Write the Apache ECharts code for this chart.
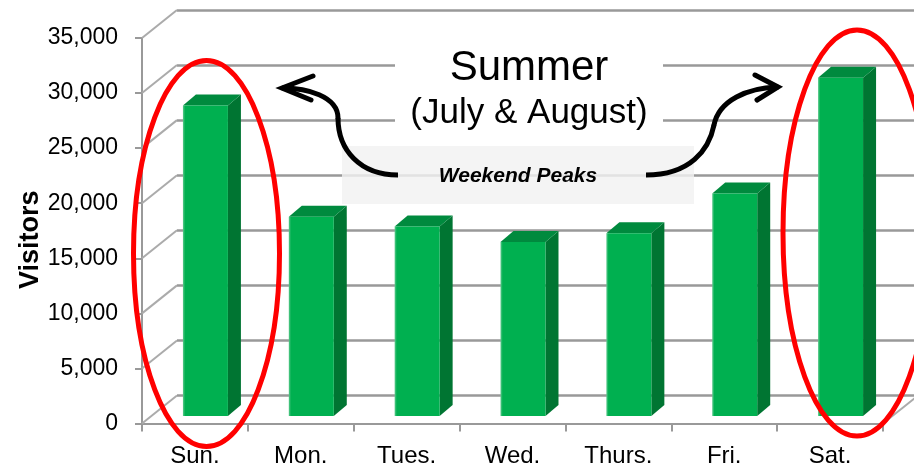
<!DOCTYPE html>
<html>
<head>
<meta charset="utf-8">
<title>Summer Visitors by Day of Week</title>
<script src="https://cdn.jsdelivr.net/npm/echarts@6/dist/echarts.min.js"></script>
<style>
  html, body { margin: 0; padding: 0; background: #ffffff; }
  #chart { width: 914px; height: 471px; }
</style>
</head>
<body>
<div id="chart"></div>
<script>
// Daily visitor totals, summer (July & August)
const categories = ['Sun.', 'Mon.', 'Tues.', 'Wed.', 'Thurs.', 'Fri.', 'Sat.'];
const visitors = [28200, 18100, 17200, 15800, 16600, 20200, 30700];
const yTickValues = [0, 5000, 10000, 15000, 20000, 25000, 30000, 35000];

const FONT = "'Liberation Sans', Arial, Helvetica, sans-serif";

// Pseudo-3D depth of the chart box (front plane -> back wall)
const WALL_DX = 35, WALL_DY = 28;
// Column placement in depth, and the column's own thickness
const BAR_DX = 10.5, BAR_DY = 7.5;
const COL_DX = 13, COL_DY = 11;

const GREEN_FRONT = '#00b050';
const GREEN_TOP = '#008a3e';
const GREEN_SIDE = '#007532';
const GRID_GRAY = '#999999';

const yStep = yTickValues[1] - yTickValues[0];
const yMin = yTickValues[0];
const yMax = yTickValues[yTickValues.length - 1];

function renderColumn(params, api) {
  const idx = api.value(0);
  const val = api.value(1);
  const base = api.coord([idx, 0]);
  const top = api.coord([idx, val]);
  const band = api.size([1, 0])[0];
  const w = band * 0.425;
  const x0 = base[0] + BAR_DX - w / 2;
  const yb = base[1] - BAR_DY;
  const yt = top[1] - BAR_DY;
  return {
    type: 'group',
    children: [
      {
        type: 'polygon',
        shape: { points: [[x0 + w, yt], [x0 + w + COL_DX, yt - COL_DY], [x0 + w + COL_DX, yb - COL_DY], [x0 + w, yb]] },
        style: { fill: GREEN_SIDE }
      },
      {
        type: 'polygon',
        shape: { points: [[x0, yt], [x0 + w, yt], [x0 + w + COL_DX, yt - COL_DY], [x0 + COL_DX, yt - COL_DY]] },
        style: { fill: GREEN_TOP }
      },
      {
        type: 'rect',
        shape: { x: x0, y: yt, width: w, height: yb - yt },
        style: {
          fill: new echarts.graphic.LinearGradient(0, 0, 1, 0, [
            { offset: 0, color: '#5cc98c' },
            { offset: 0.05, color: GREEN_FRONT },
            { offset: 1, color: GREEN_FRONT }
          ])
        }
      }
    ]
  };
}

// Side wall and floor edges joining the front axis to the back wall
function renderWall(params, api) {
  const val = api.value(1);
  const p = api.coord([0, val]);
  const x = params.coordSys.x;
  const children = [{
    type: 'line',
    shape: { x1: x, y1: p[1], x2: x + WALL_DX, y2: p[1] - WALL_DY },
    style: { stroke: '#ababab', lineWidth: 2 }
  }];
  if (val === yMin) {
    const xr = x + params.coordSys.width;
    children.push({
      type: 'line',
      shape: { x1: xr, y1: p[1], x2: xr + WALL_DX, y2: p[1] - WALL_DY },
      style: { stroke: '#ababab', lineWidth: 2 }
    });
  }
  return { type: 'group', children: children };
}

const chart = echarts.init(document.getElementById('chart'), null, { renderer: 'canvas' });

const option = {
  animation: false,
  backgroundColor: '#ffffff',
  textStyle: { fontFamily: FONT },
  grid: [
    { left: 142, top: 38, width: 741, height: 385.5, containLabel: false },
    { left: 142 + WALL_DX, top: 38 - WALL_DY, width: 741, height: 385.5, containLabel: false }
  ],
  xAxis: [
    {
      type: 'category',
      gridIndex: 0,
      data: categories,
      boundaryGap: true,
      axisLine: { show: true, lineStyle: { color: GRID_GRAY, width: 2 } },
      axisTick: { show: true, length: 8, lineStyle: { color: GRID_GRAY, width: 2 } },
      axisLabel: { color: '#000', fontSize: 24, fontFamily: FONT, margin: 21 },
      splitLine: { show: false }
    },
    {
      type: 'category',
      gridIndex: 1,
      data: categories,
      show: false
    }
  ],
  yAxis: [
    {
      type: 'value',
      gridIndex: 0,
      min: yMin,
      max: yMax,
      interval: yStep,
      name: 'Visitors',
      nameLocation: 'middle',
      nameGap: 98,
      nameRotate: 90,
      nameMoveOverlap: false,
      nameTextStyle: { color: '#000', fontSize: 27, fontWeight: 'bold', fontFamily: FONT, padding: [0, 18, 0, 0] },
      axisLine: { show: true, lineStyle: { color: GRID_GRAY, width: 2 } },
      axisTick: { show: true, length: 7, lineStyle: { color: GRID_GRAY, width: 2 } },
      axisLabel: {
        color: '#000', fontSize: 23, fontFamily: FONT, margin: 24,
        formatter: v => v.toLocaleString('en-US')
      },
      splitLine: { show: false }
    },
    {
      type: 'value',
      gridIndex: 1,
      min: yMin,
      max: yMax,
      interval: yStep,
      axisLine: { show: false },
      axisTick: { show: false },
      axisLabel: { show: false },
      splitLine: { show: true, lineStyle: { color: GRID_GRAY, width: 2.5 } }
    }
  ],
  series: [
    {
      type: 'custom',
      name: 'wall',
      xAxisIndex: 0,
      yAxisIndex: 0,
      renderItem: renderWall,
      data: yTickValues.map(v => [0, v]),
      silent: true,
      z: 1
    },
    {
      type: 'custom',
      name: 'Visitors',
      xAxisIndex: 0,
      yAxisIndex: 0,
      renderItem: renderColumn,
      encode: { x: 0, y: 1 },
      data: visitors.map((v, i) => [i, v]),
      z: 3
    }
  ],
  graphic: [
    // backdrop for the heading
    { type: 'rect', z: 50, shape: { x: 395, y: 26, width: 268, height: 112 }, style: { fill: '#ffffff' } },
    // translucent label band
    { type: 'rect', z: 50, shape: { x: 342, y: 146, width: 352, height: 58 }, style: { fill: 'rgba(242,242,242,0.82)' } },
    {
      type: 'text', z: 60, x: 529, y: 68,
      style: { text: 'Summer', fill: '#000', font: '42px ' + FONT, textAlign: 'center', textVerticalAlign: 'middle' }
    },
    {
      type: 'text', z: 60, x: 529, y: 113,
      style: { text: '(July & August)', fill: '#000', font: '35px ' + FONT, textAlign: 'center', textVerticalAlign: 'middle' }
    },
    {
      type: 'text', z: 60, x: 518, y: 176,
      style: { text: 'Weekend Peaks', fill: '#000', font: 'italic bold 21px ' + FONT, textAlign: 'center', textVerticalAlign: 'middle' }
    },
    // curved arrows toward the weekend columns
    {
      type: 'bezierCurve', z: 70,
      shape: { x1: 398, y1: 175, cpx1: 360, cpy1: 175, cpx2: 338, cpy2: 150, x2: 338, y2: 118 },
      style: { stroke: '#000', lineWidth: 5, fill: null, lineCap: 'butt' }
    },
    {
      type: 'bezierCurve', z: 70,
      shape: { x1: 338, y1: 118, cpx1: 338, cpy1: 96, cpx2: 306, cpy2: 88, x2: 283, y2: 88 },
      style: { stroke: '#000', lineWidth: 5, fill: null, lineCap: 'round' }
    },
    {
      type: 'polyline', z: 70,
      shape: { points: [[313, 76], [282, 88], [311, 100]] },
      style: { stroke: '#000', lineWidth: 5, fill: null, lineCap: 'round', lineJoin: 'miter' }
    },
    {
      type: 'bezierCurve', z: 70,
      shape: { x1: 646, y1: 175, cpx1: 690, cpy1: 175, cpx2: 709, cpy2: 150, x2: 714, y2: 125 },
      style: { stroke: '#000', lineWidth: 5, fill: null, lineCap: 'butt' }
    },
    {
      type: 'bezierCurve', z: 70,
      shape: { x1: 714, y1: 125, cpx1: 719, cpy1: 100, cpx2: 748, cpy2: 88, x2: 777, y2: 87 },
      style: { stroke: '#000', lineWidth: 5, fill: null, lineCap: 'round' }
    },
    {
      type: 'polyline', z: 70,
      shape: { points: [[755, 75], [778, 87], [757, 100]] },
      style: { stroke: '#000', lineWidth: 5, fill: null, lineCap: 'round', lineJoin: 'miter' }
    },
    // highlight rings around the weekend columns
    {
      type: 'ellipse', z: 80,
      shape: { cx: 206.5, cy: 253.5, rx: 73, ry: 193 },
      style: { stroke: '#ff0000', lineWidth: 5, fill: null }
    },
    {
      type: 'ellipse', z: 80,
      shape: { cx: 857, cy: 233, rx: 74, ry: 203 },
      style: { stroke: '#ff0000', lineWidth: 5, fill: null }
    }
  ]
};

chart.setOption(option);
</script>
</body>
</html>
